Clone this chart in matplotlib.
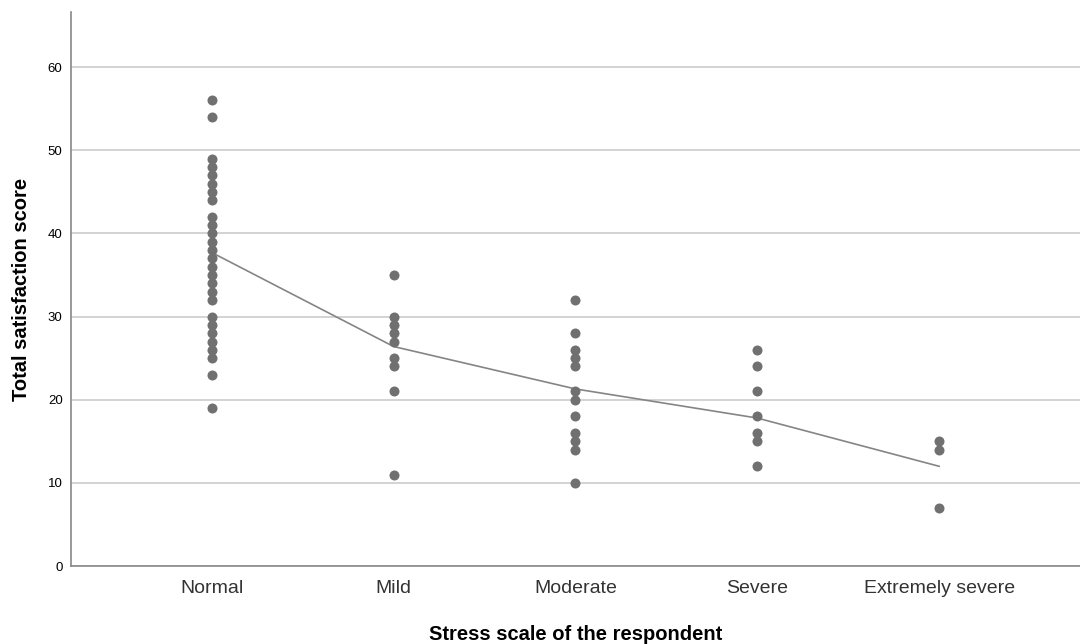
import matplotlib
matplotlib.use("Agg")
import matplotlib.pyplot as plt

plt.rcParams['font.family'] = ['Liberation Sans', 'DejaVu Sans']

categories = ["Normal", "Mild", "Moderate", "Severe", "Extremely severe"]
normal = [56, 54, 49, 48, 47, 46, 45, 44, 42, 41, 40, 39, 38, 37, 36, 35, 34,
          33, 32, 30, 29, 28, 27, 26, 25, 23, 19]
mild = [35, 30, 29, 28, 27, 25, 24, 21, 11]
moderate = [32, 28, 26, 25, 24, 21, 20, 18, 16, 15, 14, 10]
severe = [26, 24, 21, 18, 16, 15, 12]
extreme = [15, 14, 7]
# group means (interpolation line)
means = [37.7, 26.4, 21.3, 17.8, 12.0]

groups = [normal, mild, moderate, severe, extreme]

fig = plt.figure(figsize=(10.8, 6.44), dpi=100)
ax = fig.add_axes([0.0657, 0.121, 0.9343, 0.86])

for i, vals in enumerate(groups):
    ax.scatter([i + 1] * len(vals), vals, s=52, color='#707070', zorder=3, linewidths=0)

ax.plot(range(1, len(means) + 1), means, color='#858585', lw=1.2, zorder=2)

ax.set_xlim(0.225, 5.775)
ax.set_ylim(0, 66.6)
ax.set_yticks([0, 10, 20, 30, 40, 50, 60])
ax.set_xticks(range(1, 6))
ax.set_xticklabels(categories, fontsize=14, color='#333333')
ax.tick_params(axis='y', labelsize=9.5, length=0, pad=6)
ax.tick_params(axis='x', length=0, pad=10)

ax.grid(axis='y', color='#cccccc', lw=1.2)
ax.set_axisbelow(True)
for s in ['top', 'right']:
    ax.spines[s].set_visible(False)
ax.spines['left'].set_color('#888888')
ax.spines['bottom'].set_color('#888888')
ax.spines['left'].set_linewidth(1.2)
ax.spines['bottom'].set_linewidth(1.2)

ax.set_ylabel("Total satisfaction score", fontsize=14.5, fontweight='bold', labelpad=12)
ax.set_xlabel("Stress scale of the respondent", fontsize=14.5, fontweight='bold', labelpad=20)

fig.savefig("out.png", dpi=100)
